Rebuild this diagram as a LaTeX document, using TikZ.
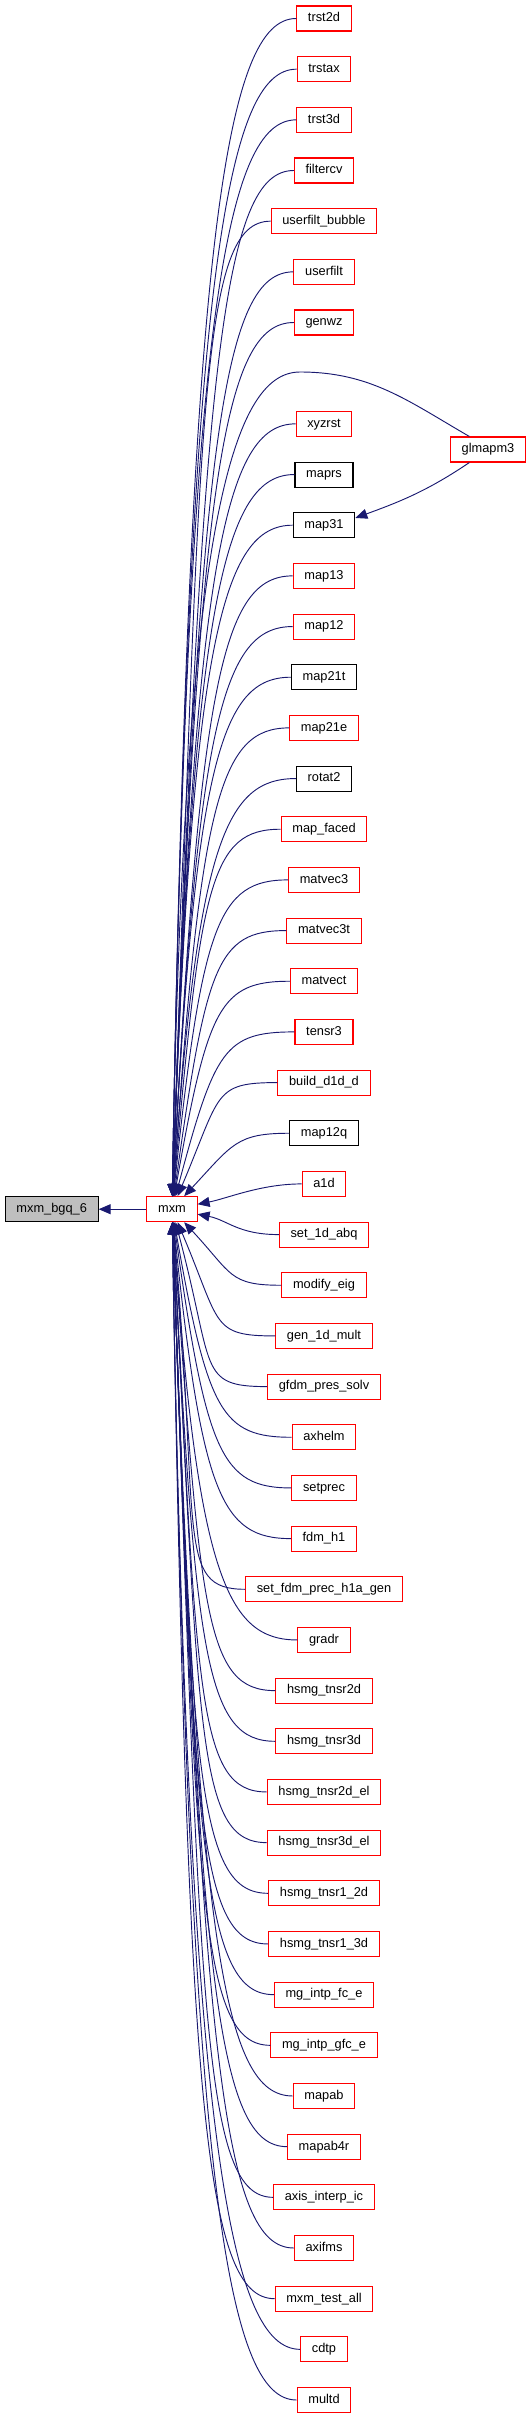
\documentclass[tikz,border=0pt]{standalone}
\usepackage{fontspec}
\setmainfont{Liberation Sans}
\usepackage{tikz}
\usetikzlibrary{arrows.meta}

\definecolor{edgeblue}{HTML}{191970}
\definecolor{leafgray}{HTML}{BFBFBF}

\tikzset{
  fn/.style={draw=red, line width=0.8pt, fill=white, minimum height=18.75pt,
    inner xsep=8.4pt, inner ysep=0pt, text height=7pt, text depth=2pt,
    font=\fontsize{9.6}{11}\selectfont},
  call/.style={->, draw=edgeblue, line width=0.7pt},
  >={Triangle[length=9pt,width=7.5pt]}
}

\begin{document}
\begin{tikzpicture}[x=0.75pt, y=0.75pt]
        \useasboundingbox (0,0) rectangle (531,-2419);

        % mxm and its caller
        \node[fn] (mxm) at (172,-1209.2) {mxm};
        \node[fn, draw=black, fill=leafgray] (bgq) at (51.7,-1209.2) {mxm\_bgq\_6};
        \draw[call] (mxm) -- (bgq);

        % column of routines that call mxm
        \foreach \row/\lbl/\col in {0/trst2d/red, 1/trstax/red, 2/trst3d/red,
            3/filtercv/red, 4/userfilt\_bubble/red, 5/userfilt/red, 6/genwz/red,
            8/xyzrst/red, 9/maprs/black, 10/map31/black, 11/map13/red,
            12/map12/red, 13/map21t/black, 14/map21e/red, 15/rotat2/black,
            16/map\_faced/red, 17/matvec3/red, 18/matvec3t/red, 19/matvect/red,
            20/tensr3/red, 21/build\_d1d\_d/red, 22/map12q/black, 23/a1d/red,
            24/set\_1d\_abq/red, 25/modify\_eig/red, 26/gen\_1d\_mult/red,
            27/gfdm\_pres\_solv/red, 28/axhelm/red, 29/setprec/red,
            30/fdm\_h1/red, 31/set\_fdm\_prec\_h1a\_gen/red, 32/gradr/red,
            33/hsmg\_tnsr2d/red, 34/hsmg\_tnsr3d/red, 35/hsmg\_tnsr2d\_el/red,
            36/hsmg\_tnsr3d\_el/red, 37/hsmg\_tnsr1\_2d/red,
            38/hsmg\_tnsr1\_3d/red, 39/mg\_intp\_fc\_e/red,
            40/mg\_intp\_gfc\_e/red, 41/mapab/red, 42/mapab4r/red,
            43/axis\_interp\_ic/red, 44/axifms/red, 45/mxm\_test\_all/red,
            46/cdtp/red, 47/multd/red}{
          \pgfmathsetmacro\ypos{-(18.5+50.67*\row)}
          \node[fn, draw=\col] (c\row) at (324,\ypos) {\lbl};
          \pgfmathsetmacro\r{\row-23.5}
          \pgfmathsetmacro\dy{abs(\r)*50.67}
          \pgfmathtruncatemacro\tilt{atan(0.6*abs(\r)*sqrt(abs(\r)))}
          \pgfmathtruncatemacro\ang{\r<0 ? \tilt : 360-\tilt}
          \pgfmathsetmacro\a{35+35*min(1,\dy/150)}
          \pgfmathsetmacro\b{0.8*\dy+10}
          \draw[call] (c\row.west) .. controls +(-\a,0) and +(\ang:\b) .. (mxm.\ang);
        }

        % glmapm3, off to the right
        \node[fn] (glmapm3) at (488,-449.5) {glmapm3};
        \coordinate (glpass) at (300,-372);
        \draw[call] (glmapm3.145) to[out=150,in=0] (glpass)
          .. controls +(-70,0) and +(89:660) .. (mxm.89);
        \draw[call] (glmapm3.215) to[out=214,in=20] (c10.13);
\end{tikzpicture}
\end{document}
